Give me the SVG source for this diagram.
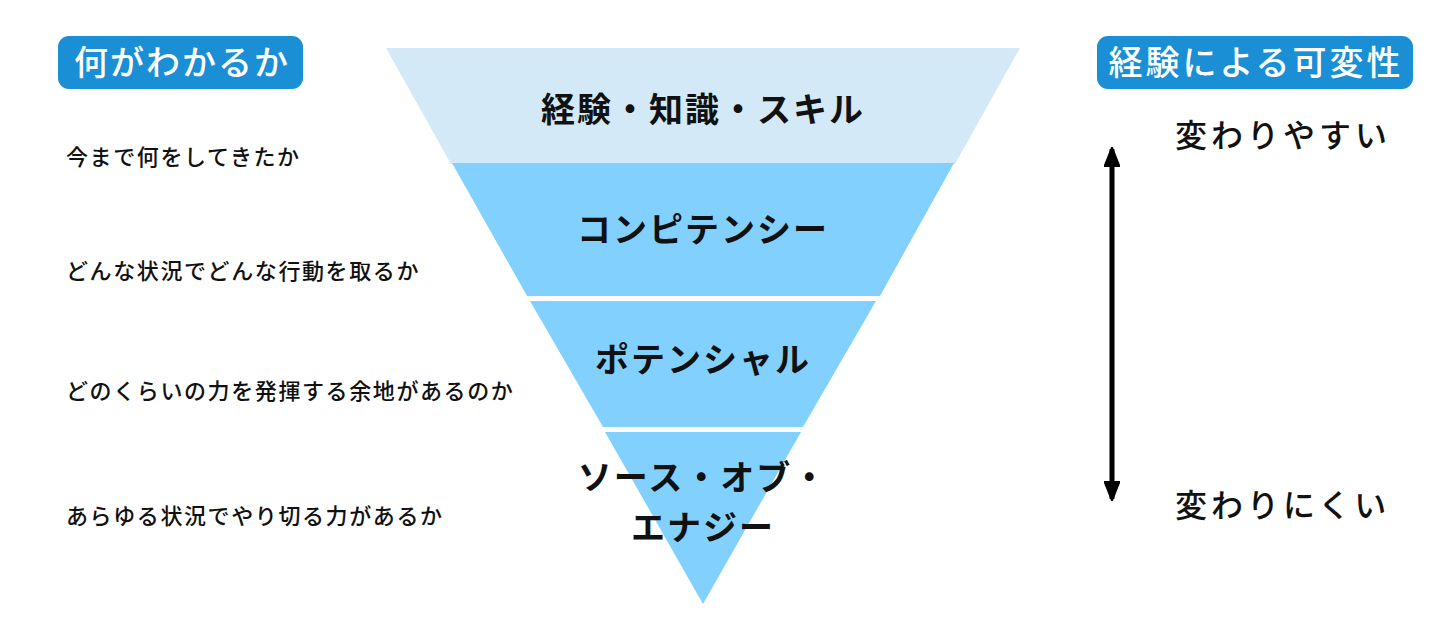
<svg xmlns="http://www.w3.org/2000/svg" width="1440" height="630" viewBox="0 0 1440 630">
<defs>
<style>
.jp{font-family:"Noto Sans CJK JP","Noto Sans CJK SC",sans-serif;}
.badge{fill:#1A8FD5;}
.badgeText{fill:#ffffff;font-size:34px;font-weight:500;text-anchor:middle;}
.lv1{fill:#D3E9F8;}
.lv{fill:#82D0FD;}
.lvText{fill:#111111;font-size:34px;font-weight:700;text-anchor:middle;}
.desc{fill:#111111;font-size:22px;font-weight:500;letter-spacing:1.6px;}
.side{fill:#111111;font-size:32px;font-weight:500;letter-spacing:4px;}
.conn{stroke:#000000;stroke-width:5;fill:none;}
</style>
<marker id="ah" viewBox="0 0 20 16" refX="18" refY="8" markerWidth="20" markerHeight="16" markerUnits="userSpaceOnUse" orient="auto-start-reverse">
<path d="M0,0 L20,8 L0,16 Z" fill="#000000" stroke="#000000" stroke-width="1.5" stroke-linejoin="round"/>
</marker>
</defs>
<rect width="1440" height="630" fill="#ffffff"/>

<g id="label-what">
<rect class="badge" x="58" y="36" width="245" height="53" rx="11"/>
<text class="jp badgeText" x="182" y="75" letter-spacing="2">何がわかるか</text>
</g>

<g id="label-variability">
<rect class="badge" x="1097" y="36" width="316" height="53" rx="11"/>
<text class="jp badgeText" x="1256" y="75" font-size="33" letter-spacing="3">経験による可変性</text>
</g>

<g id="level-skill">
<polygon class="lv1" points="386,48 1020,48 955,164 451,164"/>
<text class="jp lvText" x="703" y="122" letter-spacing="2">経験・知識・スキル</text>
</g>

<g id="level-competency">
<polygon class="lv" points="452,163 954,163 880,296 527,296"/>
<text class="jp lvText" x="703" y="242" letter-spacing="2">コンピテンシー</text>
</g>

<g id="level-potential">
<polygon class="lv" points="530,301 876,301 803,427 603,427"/>
<text class="jp lvText" x="703" y="372" letter-spacing="2">ポテンシャル</text>
</g>

<g id="level-energy">
<polygon class="lv" points="605,432 801,432 703,604"/>
<text class="jp lvText" x="703" y="490" letter-spacing="2">ソース・オブ・</text>
<text class="jp lvText" x="703" y="540" letter-spacing="2">エナジー</text>
</g>

<g id="desc-skill"><text class="jp desc" x="66" y="165">今まで何をしてきたか</text></g>
<g id="desc-competency"><text class="jp desc" x="66" y="279">どんな状況でどんな行動を取るか</text></g>
<g id="desc-potential"><text class="jp desc" x="66" y="399">どのくらいの力を発揮する余地があるのか</text></g>
<g id="desc-energy"><text class="jp desc" x="66" y="524">あらゆる状況でやり切る力があるか</text></g>

<g id="side-easy"><text class="jp side" x="1175" y="147">変わりやすい</text></g>
<g id="side-hard"><text class="jp side" x="1175" y="517">変わりにくい</text></g>

<g id="connectors">
<line class="conn" x1="1112" y1="149" x2="1112" y2="499" marker-start="url(#ah)" marker-end="url(#ah)"/>
</g>
</svg>
